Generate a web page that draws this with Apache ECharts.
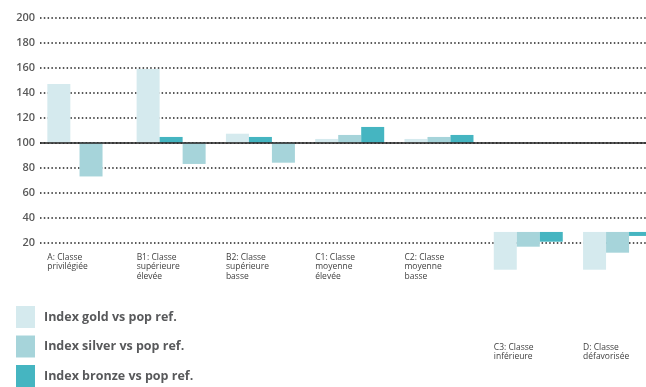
<!DOCTYPE html>
<html>
<head>
<meta charset="utf-8">
<script src="https://cdn.jsdelivr.net/npm/echarts@6/dist/echarts.min.js"></script>
<style>
  html, body { margin: 0; padding: 0; background: #fff; }
  #chart { width: 646px; height: 387px; }
</style>
</head>
<body>
<div id="chart"></div>
<script>
// categories (social classes)
const categories = [
  'A: Classe\nprivilégiée',
  'B1: Classe\nsupérieure\nélevée',
  'B2: Classe\nsupérieure\nbasse',
  'C1: Classe\nmoyenne\nélevée',
  'C2: Classe\nmoyenne\nbasse',
  'C3: Classe\ninférieure',
  'D: Classe\ndéfavorisée'
]
const seriesNames = ['Index gold vs pop ref.', 'Index silver vs pop ref.', 'Index bronze vs pop ref.']
const yTicks = [20, 40, 60, 80, 100, 120, 140, 160, 180, 200]

// where each bar starts (100 = reference), and where it ends
const baseValues = [100, 100, 100, 100, 100, 28.6, 28.6]
const goldIndex = [147, 159, 107.2, 103, 103, -1.6, -1.6]
const silverIndex = [73, 83, 84, 106.2, 104.6, 16.8, 12]
const bronzeIndex = [100, 104.6, 104.6, 112.6, 106.2, 20.8, 25.4]

// layout: slot of each bar inside its group
const goldSlot = [0, 0, 0, 0, 0, 0, 0]
const silverSlot = [1.4, 2, 2, 1, 1, 1, 1]
const bronzeSlot = [2, 1, 1, 2, 2, 2, 2]

const BAR_W = 23
const GROUP_SHIFT = 37.3 // group start left of category centre

function toData (values, slots) {
  return values.map((v, i) => [i, baseValues[i], v, slots[i]])
}

function renderBar (params, api) {
  const idx = api.value(0)
  const p0 = api.coord([idx, api.value(1)])
  const p1 = api.coord([idx, api.value(2)])
  const x = p0[0] - GROUP_SHIFT + api.value(3) * BAR_W
  return {
    type: 'rect',
    shape: { x: x, y: Math.min(p0[1], p1[1]), width: BAR_W, height: Math.abs(p1[1] - p0[1]) },
    style: { fill: api.visual('color') }
  }
}

function leftLabel (text) {
  return text.split('\n').map(l => '{t|' + l + '}').join('\n')
}

const labelRich = {
  t: { width: GROUP_SHIFT * 2, align: 'left', fontSize: 8.5, lineHeight: 9.5, color: '#3f3f3f', fontFamily: 'Open Sans' }
}

const chart = echarts.init(document.getElementById('chart'))
chart.setOption({
  animation: false,
  grid: { left: 40, width: 625, top: 17.7, bottom: 144.3, containLabel: false, outerBoundsMode: 'none' },
  legend: {
    orient: 'vertical',
    left: 16,
    top: 306,
    height: 120,
    padding: 0,
    itemWidth: 19,
    itemHeight: 22,
    itemGap: 7.5,
    icon: 'rect',
    selectedMode: false,
    data: seriesNames,
    textStyle: { fontSize: 12.5, fontWeight: 'bold', color: '#58595b', fontFamily: 'Open Sans', padding: [0, 0, 0, 4] }
  },
  xAxis: [
    {
      type: 'category',
      data: categories,
      axisLine: { show: false },
      axisTick: { show: false },
      splitLine: { show: false },
      axisLabel: {
        interval: 0,
        margin: 10,
        align: 'center',
        formatter: (v, i) => i < 5 ? leftLabel(v) : '',
        rich: labelRich
      }
    },
    {
      type: 'category',
      data: categories,
      position: 'bottom',
      offset: 90,
      axisLine: { show: false },
      axisTick: { show: false },
      splitLine: { show: false },
      axisLabel: {
        interval: 0,
        margin: 10,
        align: 'center',
        formatter: (v, i) => i >= 5 ? leftLabel(v) : '',
        rich: labelRich
      }
    }
  ],
  yAxis: {
    type: 'value',
    min: yTicks[0],
    max: yTicks[yTicks.length - 1],
    interval: 20,
    axisLine: { show: false },
    axisTick: { show: false },
    axisLabel: { margin: 5, fontSize: 11, fontWeight: 600, color: '#595959', fontFamily: 'Open Sans' },
    splitLine: { lineStyle: { color: '#222', width: 1.5, type: [1.5, 2.3] } }
  },
  series: [
    {
      name: seriesNames[0],
      type: 'custom',
      renderItem: renderBar,
      itemStyle: { color: '#d5eaee' },
      encode: { x: 0, y: [1, 2] },
      data: toData(goldIndex, goldSlot),
      markLine: {
        silent: true,
        symbol: 'none',
        label: { show: false },
        lineStyle: { color: '#222', type: 'solid', width: 1.5 },
        data: [{ yAxis: 100 }]
      }
    },
    {
      name: seriesNames[1],
      type: 'custom',
      renderItem: renderBar,
      itemStyle: { color: '#a6d4da' },
      encode: { x: 0, y: [1, 2] },
      data: toData(silverIndex, silverSlot)
    },
    {
      name: seriesNames[2],
      type: 'custom',
      renderItem: renderBar,
      itemStyle: { color: '#45b5c1' },
      encode: { x: 0, y: [1, 2] },
      data: toData(bronzeIndex, bronzeSlot)
    }
  ]
})
</script>
</body>
</html>
